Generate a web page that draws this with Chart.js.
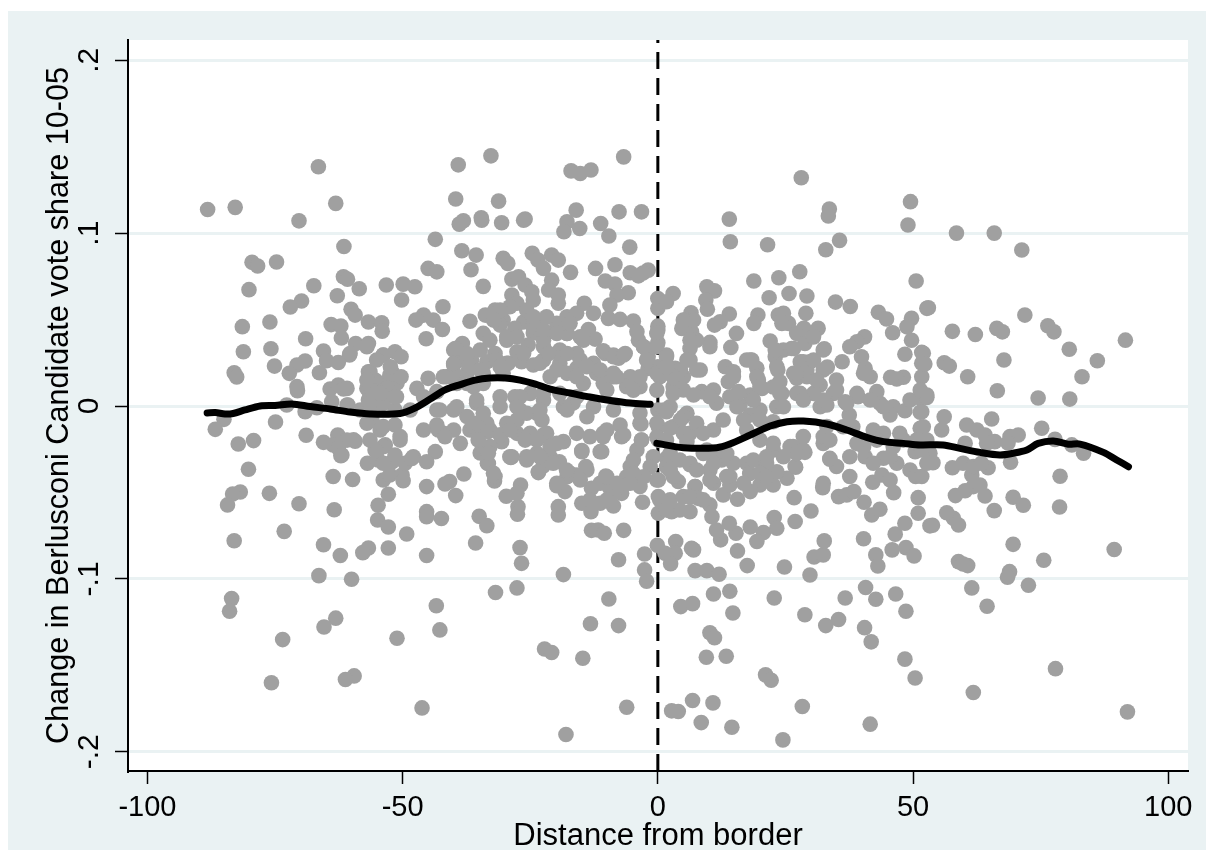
<!DOCTYPE html>
<html>
<head>
<meta charset="utf-8">
<title>Change in vote share by distance from border</title>
<script src="https://cdn.jsdelivr.net/npm/chart.js@4"></script>
<style>
  html, body { margin: 0; padding: 0; background: #fff; overflow: hidden; }
  #wrap { position: absolute; left: 8px; top: 11px; width: 1198px; height: 839px; background: #eaf2f3; }
</style>
</head>
<body>
<div id="wrap"><canvas id="scatterChart" width="1198" height="839"></canvas></div>
<script>
// Axis ticks and labels
const xTicks = [-100, -50, 0, 50, 100];
const yTicks = [-0.2, -0.1, 0, 0.1, 0.2];
const yTickLabels = ['-.2', '-.1', '0', '.1', '.2'];

// Scatter points, [distance, change]
const farLeftPoints = [
  [-88.2,.1137],[-82.8,.1149],[-66.5,.1384],[-63.1,.1172],[-70.3,.1071],[-61.5,.0923],[-79.5,.0831],[-78.4,.081],[-74.7,.0833],[-80.1,.0673],
  [-67.4,.0696],[-69.8,.0607],[-72,.0573],[-62.8,.0638],[-61.6,.0748],[-60.8,.0733],[-58.5,.0678],[-53.2,.07],[-81.4,.0459],[-76,.0486],
  [-81.2,.0314],[-75.8,.0331],[-69,.0389],[-75.1,.0231],[-83,.0192],[-82.5,.0168],[-64,.0471],[-62.1,.0463],[-62,.0394],[-60.1,.0559],
  [-59.3,.0526],[-56.7,.0486],[-54.1,.0481],[-54,.0433],[-59.2,.0362],[-56.7,.0362],[-65.5,.0318],[-60.4,.0295],[-69.1,.026],[-70.7,.0237],
  [-72.2,.0189],[-64.9,.0262],[-62.6,.0252],[-66.3,.0192],[-70.7,.0112],[-70.6,.0088],[-64.2,.0098],[-62.6,.0121],[-61.6,.0098],[-56.7,.0198],
  [-57,.0102],[-52.1,.0198],[-53.8,.0295],[-51.5,.0314],[-55.4,.015],[-53.8,.0133],[-51.1,.0133],[-56.7,.0035],[-63.9,.0025],[-60.7,.0006],
  [-72.7,.0006],[-69.1,-.0033],[-66.8,-.001],[-85,-.0077],[-86.7,-.0135],[-74.9,-.0092],[-68.9,-.0169],[-82.2,-.022],[-79.2,-.02],[-65.5,-.021],
  [-62.7,-.0168],[-63.6,-.0225],[-60.9,-.0197],[-59.3,-.0204],[-62.1,-.0287],[-62.6,-.0243],[-80.2,-.0366],[-56.9,-.0331],[-55.4,-.0254],[-63.6,-.0408],
  [-59.8,-.0425],[-53.8,-.0428],[-81.8,-.0497],[-83.3,-.0509],[-76.1,-.0505],[-84.3,-.0572],[-70.3,-.0565],[-63.4,-.06],[-52.8,-.051],[-54.8,-.0574],
  [-54.9,-.0659],[-52.8,-.07],[-73.2,-.0725],[-83,-.0779],[-65.5,-.0802],[-56.7,-.0821],[-57.8,-.0848],[-62.2,-.0865],[-52.8,-.0821],[-66.4,-.0981],
  [-60,-.1002],[-83.5,-.1114],[-83.9,-.1187],[-63.1,-.1227],[-65.4,-.1278],[-73.5,-.1351],[-51.1,-.1343],[-75.7,-.1601],[-59.5,-.1561],[-61.2,-.1582],
  [-58.3,-.0023],[-55.4,.0006],[-53.4,.0064],[-51.5,-.0023],[-56,-.0081],[-54.4,-.0139],[-51.5,-.011],[-53.4,-.0225],[-50.5,-.0197],[-56.4,-.0197],
  [-54.8,-.0312],[-52.1,-.0324],[-52.5,-.0399],[-50.1,-.0399],[-56.4,.0064]
];
const nearLeftPoints = [
  [-39.1,.1395],[-32.7,.1447],[-6.7,.1441],[-17,.136],[-15.2,.1345],[-13.1,.1365],[-39.6,.1197],[-31.2,.1185],[-16,.1133],[-7.6,.1123],
  [-3.2,.1123],[-38.1,.1071],[-38.9,.1052],[-34.6,.1089],[-34.5,.1075],[-30.6,.106],[-26,.1081],[-26.3,.1075],[-17.8,.1065],[-18.4,.1008],
  [-15.3,.1027],[-11.2,.1056],[-9.6,.0983],[-43.6,.0964],[-5.5,.0919],[-38.4,.0898],[-35.6,.0873],[-30.3,.0854],[-29.4,.0825],[-24.6,.0883],
  [-23.5,.0844],[-20.8,.0873],[-19.5,.0844],[-36.6,.0788],[-45,.0796],[-43.3,.0776],[-22.4,.0796],[-17.1,.0773],[-12.2,.0796],[-8.4,.0817],
  [-5.4,.0771],[-3.8,.0753],[-1.9,.0786],[-2.9,.0769],[-34.2,.0692],[-28.6,.0734],[-27.3,.0748],[-20.8,.0728],[-10.3,.0723],[-8.4,.0705],
  [-49.9,.0705],[-47.6,.069],[-26,.07],[-24.7,.0661],[-21.4,.0671],[-5.8,.0655],[-28.6,.0642],[-19.5,.0642],[-8,.0642],[-50.2,.0613],
  [-42.1,.0574],[-27.6,.0594],[-24.4,.0613],[-19.5,.0595],[-14.4,.0594],[-9.4,.0584],[-12.6,.0536],[-31.9,.0555],[-33.8,.0526],[-45.9,.0526],
  [-47.4,.0497],[-44,.0497],[-36.8,.049],[-42.2,.0443],[-45.4,.0389],[-30.3,.0497],[-26.3,.0486],[-28,.0449],[-30.9,.0468],[-23.4,.0497],
  [-19.8,.0478],[-17.8,.0516],[-15.9,.0536],[-9.7,.0507],[-7.4,.0501],[-4.8,.0491],[-13.6,.0443],[-12.3,.0387],[-34.2,.042],[-32.9,.0381],
  [-29.6,.0381],[-24.4,.0422],[-21.8,.0422],[-17.8,.042],[-15.2,.04],[-4.1,.043],[-3.8,.0381],[-38.3,.0362],[-40,.0324],[-34.8,.0324],
  [-31.9,.0304],[-27.6,.0314],[-25.4,.0353],[-22.4,.0343],[-19.2,.0324],[-15.9,.0304],[-10.3,.0304],[-8.7,.0295],[-6.4,.0304],[-7.7,.0277],
  [-2.8,.0343],[-1.9,.0285],[-50.3,.0285],[-40,.0237],[-36.5,.0266],[-33.5,.0256],[-29.3,.0247],[-26.7,.0256],[-24.4,.0237],[-22.4,.0266],
  [-19.2,.0247],[-15.9,.0218],[-12,.0189],[-8.7,.0169],[-5.4,.0169],[-1.9,.0218],[-41.4,.0169],[-37.4,.0189],[-34.2,.0189],[-45,.016],
  [-47.2,.0102],[-50.3,.0169],[-39.4,.0131],[-36.1,.0112],[-21.1,.0169],[-17.8,.0189],[-14.6,.0131],[-10.7,.0131],[-6.1,.0112],[-3.5,.0112],
  [-30.9,.0054],[-28,.0054],[-25,.0073],[-22.4,.0035],[-18.5,-.0004],[-16.6,.0017],[-12.6,-.0004],[-8.7,-.0023],[-3.5,-.004],[-30.9,-.0004],
  [-27,-.0023],[-23.7,-.0042],[-42.7,-.0023],[-39.4,-.0004],[-35.5,.0016],[-48.5,-.0023],[-45.9,.0054],[-43.3,-.011],[-42,-.0158],[-40,-.0139],
  [-45.9,-.0139],[-38.7,-.0216],[-43.6,-.0264],[-47.9,-.0293],[-45.3,-.0322],[-49.5,-.0331],[-49.9,-.0432],[-45.3,-.0466],[-40.8,-.0437],[-41.7,-.0451],
  [-38,-.0393],[-39.6,-.0518],[-45.3,-.0611],[-45.3,-.064],[-42.4,-.0651],[-49.2,-.074],[-35,-.0638],[-33.5,-.0692],[-35.7,-.0792],[-45.3,-.0865],
  [-27,-.0819],[-26.7,-.091],[-27.6,-.1052],[-31.8,-.1079],[-18.5,-.0975],[-43.4,-.1155],[-42.7,-.1295],[-9.6,-.1116],[-7.7,-.127],[-13.2,-.1259],
  [-22.2,-.1405],[-20.8,-.1426],[-14.7,-.1459],[-46.2,-.1746],[-6.1,-.1742],[-18,-.19],[-2.6,-.0856],[-2.6,-.0948],[-2.2,-.1013],[-7.7,-.0889],
  [-6.7,-.0719],[-13,-.0719],[-11.7,-.0717],[-10.5,-.0736],[-19.5,-.0582],[-19.5,-.063],[-27.4,-.0582],[-27.5,-.0626],[-26.9,-.0457],[-29.7,-.0522],
  [-27.6,-.0505],[-32,-.0433],[-33.4,-.0331],[-28.8,-.0297],[-25.7,-.0293],[-23.4,-.0385],[-19.3,-.0322],[-19.8,-.0461],[-18.2,-.0495],[-17.2,-.0389],
  [-14.1,-.035],[-15.9,-.0399],[-13,-.0476],[-10.2,-.0405],[-11.3,-.0447],[-9.4,-.0476],[-7.1,-.0505],[-6.1,-.0447],[-3.5,-.0466],[-3,-.0557],
  [-14.9,-.0562],[-13.1,-.0611],[-11.3,-.0562],[-8.7,-.0578],[-3.3,-.0104],[-3.2,-.0197],[-4.1,-.0254],[-5.4,-.035],[-11,-.0264],[-14.9,-.0258],
  [-18.5,-.0206],[-15.9,-.0158],[-13.3,-.0177],[-10.7,-.0158],[-7.1,-.0177],[-7.4,-.011],[-21.8,-.0158],[-25.7,-.0187],[-29.3,-.011],[-30.6,-.0206],
  [-32.9,-.0235],[-34.8,-.0158],[-36.8,-.0139],[-32.9,-.0139],[-27.6,-.0158],[-22.7,-.0081],[-22.5,-.0349],[-23.7,-.0273],[-21.1,-.0293],[-34.8,-.0272],
  [-.9,-.0293],[0,.0622],[0,.0565],[0,.0462],[0,.044],[0,.0366],[0,.0227],[0,-.0023],[-.1,-.0805]
];
const nearRightPoints = [
  [3,.0651],[1.7,.0603],[1.7,.0295],[.4,.0169],[3.4,.0218],[5,.0169],[2.4,-.0004],[5.7,-.0042],[1.1,-.0023],[4.5,-.116],
  [6.8,-.1143],[3.5,-.0784],[3.4,-.0852],[1.4,-.0852],[2.5,-.0912],[7,-.0832],[7.3,-.0952],[.1,-.0428],[.1,-.0524],[.1,-.062],
  [2.4,-.0543],[2.7,-.0611],[6.3,-.0611],[5,-.0524],[7.3,-.0466],[4,-.0437],[2.4,-.037],[1.7,-.0302],[6.3,-.0331],[.1,-.012],
  [.1,-.0197],[3,-.012],[5,-.0062],[6.3,-.0158],[9.6,-.0952],[12,-.0973],[17.5,-.0923],[15.6,-.0838],[6.6,-.0823],[10.9,-.1087],
  [14.1,-.1071],[14.7,-.1197],[22.8,-.111],[28.8,-.1207],[32.9,-.127],[35.4,-.1235],[40.5,-.1282],[41.8,-.1364],[40.7,-.105],[42.7,-.1118],
  [36.7,-.111],[46.6,-.1087],[48.6,-.1187],[48.4,-.1464],[29.8,-.0977],[24.8,-.0931],[30.6,-.0873],[32.4,-.0861],[32.6,-.078],[26.9,-.0668],
  [30,-.0607],[26.7,-.053],[32.3,-.0472],[40.3,-.0768],[42.7,-.0861],[43.1,-.0925],[45.9,-.0832],[48.6,-.0819],[46.5,-.0741],[48.4,-.0678],
  [41.9,-.063],[43.5,-.0597],[40.4,-.0557],[35.4,-.0524],[37,-.0514],[38.4,-.0495],[46.2,-.0501],[42.1,-.0441],[43.9,-.0399],[45.5,-.0428],
  [37.6,-.0408],[49.4,-.037],[46.8,-.0331],[44.2,-.0302],[40.6,-.0293],[37.6,-.0293],[35,-.035],[33.7,-.0308],[28.8,-.0268],[27,-.0354],
  [25.3,-.0418],[22.6,-.0457],[20,-.0457],[18.1,-.0495],[15.6,-.0539],[12.8,-.0514],[14.1,-.0457],[14.1,-.0408],[10.9,-.0447],[7.3,-.0466],
  [12.5,-.0312],[10.2,-.037],[6.3,-.034],[17.4,-.0331],[20.7,-.0331],[23.3,-.038],[22.6,-.0254],[26.5,-.0235],[18,-.039],[22.8,-.0645],
  [23.3,-.0707],[20.7,-.0732],[18.1,-.07],[19.4,-.0784],[15.3,-.0736],[14,-.0678],[12.3,-.0774],[11.5,-.0717],[10.6,-.064],[10.2,-.0572],
  [7.9,-.0534],[13.4,-.1447],[9.5,-.1453],[10.2,-.1311],[11.1,-.134],[21.1,-.1555],[22.2,-.1586],[28.3,-.1738],[41.6,-.184],[24.5,-.1931],
  [14.5,-.1858],[8.5,-.1831],[10.8,-.1717],[6.8,-.1703],[2.7,-.1763],[4,-.1767],[28.1,.132],[14,.1081],[14.2,.095],[21.5,.0933],
  [33.6,.1139],[33.4,.1099],[35.6,.0958],[32.9,.0904],[49.5,.1182],[49,.1047],[27.8,.0777],[18.8,.0723],[23.7,.0742],[21.8,.0626],
  [25.7,.0651],[29.2,.0636],[34.8,.0601],[37.7,.0576],[29,.0536],[9.6,.069],[11.1,.0666],[9.4,.0613],[9.7,.056],[6.5,.0539],
  [5.3,.0497],[4.7,.0449],[14,.0532],[12.2,.0487],[11.1,.0468],[19.6,.0526],[18.8,.0478],[23.6,.0526],[24.6,.0536],[25.6,.0478],
  [24.3,.0478],[15.4,.042],[14.3,.0339],[10.2,.0368],[6.6,.043],[7.6,.0381],[6.3,.0333],[6.3,.0266],[22,.0376],[28.6,.0449],
  [31.4,.0449],[27.2,.042],[28.8,.0362],[30.5,.04],[32.6,.0331],[40.5,.04],[39,.0372],[37.6,.0343],[36.1,.0256],[33.2,.0226],
  [43.2,.0542],[44.8,.0503],[46,.0424],[49.7,.0507],[48.8,.0458],[49.7,.038],[48.4,.0299],[48.1,.0166],[46.8,.0156],[45.6,.0166],
  [39.9,.0285],[40.6,.0218],[41.6,.0169],[35,.015],[39.2,.0054],[42.9,.0083],[46.1,-.0004],[48.4,-.0027],[45.5,-.0052],[37.5,-.0052],
  [43.5,.0016],[18.4,.0266],[17.4,.0266],[19.4,.0218],[19.7,.015],[20.4,.0102],[18.1,.0064],[13.2,.0227],[14.8,.0198],[13.8,.014],
  [15.8,.0083],[8.3,.0208],[4.4,.0208],[3,.0208],[8.6,.0083],[7,.0064],[10.9,.0093],[5,.0093],[3,.0112],[11.5,.0016],
  [16.1,.0006],[18.1,-.0052],[23.5,.0208],[23,.0285],[24.6,.0324],[26.2,.0333],[28.5,.0256],[29.8,.0256],[27.2,.016],[29.2,.0169],
  [31.8,.0121],[23.9,.014],[24.3,.0073],[27.2,.0073],[30.5,.0073],[34.4,.0073],[36.7,.0025],[33.1,.0006],[23.3,-.0004],[20,-.0023],
  [47.4,-.0158],[42.2,-.0139],[38.2,-.012],[40.3,-.0235],[32.4,-.0216]
];
const farRightPoints = [
  [50.4,-.1573],[50.2,-.0867],[51,-.062],[51,-.053],[53.3,-.0693],[50.5,-.0408],[50.4,-.0264],[51.4,-.0129],[50.6,.0723],[51.7,.031],
  [52.7,.0565],[51.7,.0247],[51.7,.0169],[51.4,.0045],[52.7,.0064],[51.4,-.0036],[58.5,.1],[65.9,.1],[71.3,.0902],[53,.0568],
  [71.9,.0526],[57.7,.0432],[62.2,.0414],[66.4,.0449],[67.5,.0429],[76.4,.0464],[77.6,.0429],[80.6,.0328],[91.6,.0381],[86.1,.0262],
  [83.1,.0169],[67.8,.0266],[56.1,.025],[57.1,.0231],[60.7,.0169],[66.5,.0088],[74.5,.0046],[80.7,.004],[52,.0305],[52.3,.0243],
  [52.7,.005],[51.7,-.0033],[56.1,-.0062],[60.5,-.011],[65.4,-.0075],[75.2,-.0129],[77.8,-.0193],[81.1,-.0225],[83.4,-.0273],[78.8,-.0406],
  [78.7,-.0584],[69.6,-.08],[89.4,-.083],[75.6,-.0892],[72.6,-.1037],[68.9,-.0958],[68.5,-.099],[61.5,-.1052],[64.5,-.1158],[58.9,-.09],
  [60.7,-.0923],[59.8,-.0914],[77.9,-.1519],[61.8,-.1657],[92,-.1769],[53.8,-.069],[58.9,-.0688],[57.9,-.0649],[56.6,-.0617],[65.9,-.0605],
  [69.6,-.0528],[71.6,-.0574],[64.1,-.052],[58.3,-.0518],[60.2,-.049],[61.8,-.0466],[63.1,-.0457],[61.5,-.0399],[57.7,-.0357],[59.8,-.0331],
  [61.8,-.035],[64.7,-.0357],[63.4,-.0331],[69.1,-.0325],[53.9,-.0328],[53.3,-.0273],[51.7,-.0408],[55.6,-.0139],[62.5,-.0139],[64.1,-.0168],
  [66,-.0206],[69,-.0177],[70.6,-.0168],[68.6,-.0214],[60.2,-.0216],[64.4,-.0216],[51.7,-.0254]
];

// Extra points in the solid-looking clusters, estimated from closer crops
const denseLeftPoints = [
  [-60.3,.0304],[-57,.0343],[-53.8,.0295],[-56.4,.0198],[-52.5,.0179],[-56,.0092],[-53.1,.0102],[-56.4,.0015],[-53.8,.0015],[-51.2,.0054],
  [-60.9,.0102],[-60.9,.0006],[-57,-.01],[-53.8,-.0119],[-50.5,-.0177],[-53.8,-.0235],[-55.1,-.0264],[-51.5,-.0283],[-48.2,-.0303],[-43,-.0139],
  [-41.7,-.0177],[-43.3,.0083],[-40,.0189],[-39.4,.0266],[-39.7,.0333],[-37.1,.0237],[-34.8,.0208],[-31.6,.0266],[-30.3,.0189],[-35.5,.0035],
  [-37.4,.0131],[-34.2,.0131],[-33.5,-.01],[-36.1,-.0119],[-34.2,-.0235],[-33.2,-.0332],[-31.9,-.0408],[-28.6,-.0293],[-29.6,-.01],[-59.6,-.0196],
  [-61.9,-.0283],[-53.8,-.0331],[-55.1,.0266],[-52.4,.0227],[-54.4,.0073],[-57,.015],[-51.5,.0054],[-35.5,-.01],[-33.2,-.0148],[-30.9,-.0167],
  [-27.6,-.0081],[-25.7,-.0042],[-34.2,-.0042],[-37.4,-.0061],[-40,-.0023],[-43.3,-.0023],[-33.2,-.0273],[-35.2,-.0196],[-32.2,-.0389]
];
const denseCentrePoints = [
  [-29.6,.0401],[-24.4,.0458],[-22.4,.0381],[-17.8,.042],[-14.6,.0381],[-29.6,.0247],[-27,.0285],[-23.1,.0247],[-19.2,.0304],[-15.2,.0266],
  [-19.8,.0208],[-15.9,.0169],[-11.3,.0189],[-8.1,.0169],[-3.5,.0169],[-2.2,.0266],[-2.8,.0343],[-10.7,.032],[-8.7,.0285],[-6.7,.0295],
  [-12.6,.0247],[-27,.0054],[-22.4,.0073],[-19.2,.0073],[-15.9,.0054],[-10,.0092],[-4.8,.0092],[-.2,.0092],[-.2,.0189],[-.2,.042],
  [-.2,.0343],[-27.6,-.0004],[-23.1,-.0023],[-17.8,-.0023],[-13.9,-.0062],[-10,-.0139],[-6.7,-.0168],[-10.7,-.0177],[-3.5,-.01],[-3.2,-.0197],
  [-.2,-.01],[-.2,-.018],[-28.9,-.0139],[-25,-.0158],[-26,-.0197],[-19.8,-.0216],[-22.4,-.0168],[-29,-.0293],[-25.7,-.0312],[-23.4,-.038],
  [-14.9,-.0264],[-11.3,-.0264],[-13.9,-.037],[-10,-.0409],[-17.8,-.0409],[-19.8,-.0447],[-4.8,-.0312],[-1.5,-.0351],[-.2,-.0428],[-6.1,-.0409],
  [-2.8,-.0409],[-29,.0574],[-25.7,.0555],[-24.4,.0516],[-22.4,.0439],[-19.8,.042],[-17.2,.0478],[-21.8,.0516],[-30.9,.0555],[-32.2,.0497],
  [-27.6,.04],[-26.3,.0304],[-21.4,.0304],[-17.8,.0304],[-30.9,.0227],[-37.4,.0304],[-40,.0246],[-42,.0169],[-13.9,.0227],[-11.3,.0208],
  [-8.7,.0189],[-23.7,-.0196],[-21.1,-.0235],[-23.1,-.0293],[-20.5,-.0331],[-17.9,-.037],[-15.2,-.0428],[-8.7,-.0505],[-8,-.0447],[-4.8,-.039],
  [-5.4,-.0447],[-10,-.0543],[-13.3,-.0543]
];
const denseRightPoints = [
  [1.7,.0285],[4.4,.0208],[7.6,.0208],[3,.017],[10.2,.0343],[18.1,.0266],[14.8,.017],[19.4,.017],[20,.0112],[10.2,.0054],
  [14.1,.0054],[15.5,-.0004],[18.7,.0035],[3,.0073],[1.7,-.0033],[4.4,-.0081],[7.6,-.01],[10.9,-.0139],[2.4,-.0129],[5,-.0158],
  [8.9,-.0158],[12.8,-.0081],[16.8,-.0081],[20,-.0081],[22.6,-.0091],[17.4,-.0139],[20,-.0197],[22.6,-.0216],[25.9,-.0235],[28.5,-.0254],
  [18.7,-.0312],[21.3,-.033],[26.9,-.035],[20,-.0389],[2.4,-.0274],[1.7,-.0196],[5.7,-.0206],[9.6,-.0254],[11.5,-.0293],[7.6,-.037],
  [10.2,-.0428],[13.5,-.0408],[3,-.0408],[1.7,-.0351],[23.3,.0227],[26.6,.0189],[29.2,.0208],[32.4,.0208],[27.9,.0256],[30.5,.0266],
  [32.4,.0324],[27.9,.0073],[23.9,.0073],[31.8,-.0004],[33.1,-.0119],[28.5,-.0177],[32.4,-.0177],[26.6,.0333],[23,.0324],[32.4,-.0447],
  [1.7,.0227],[5.7,.0266],[6.3,.0381],[7,.0497],[5,.0497],[39,.0073],[41.6,.0035],[44.2,-.0004],[37,.0015],[35,.0092],
  [32.4,.0035],[28.5,.0035],[24.6,-.0004],[22.6,.011],[27.2,.0189],[31.1,.015],[40.3,.0189],[49.4,.0035],[51.4,.0092],[52,-.012],
  [33.7,-.0303],[44.2,-.0158],[46.1,-.0235],[48.1,-.0197],[42.9,-.0197],[39,-.0216],[36.3,-.012],[33.7,-.0197],[42.2,-.0331],[45.5,-.0293],
  [50.7,-.0197],[52.7,-.0197],[52.7,-.0331],[27.2,-.0274],[24.6,-.0293],[21.3,-.0293],[21.3,-.0409],[16.8,-.0447],[14.8,-.0331],[13.5,-.0274],
  [10.9,-.0331],[8.9,-.0274],[4.3,-.0312],[2.4,-.037],[6.3,-.0524],[8.9,-.0543],[.4,-.0543],[4.3,-.0601],[1.7,-.0601]
];

// Smoothed fit either side of the border
const leftFit = [
  [-88.3,-.004],[-86.7,-.0038],[-84.8,-.0046],[-83.2,-.0043],[-80.9,-.0023],[-77.9,0],[-75,.0003],[-71.7,.0012],[-68.1,-.0003],[-64.2,-.0017],
  [-60.3,-.0035],[-56.4,-.0046],[-50.5,-.0043],[-47.6,-.0012],[-44.6,.004],[-41.7,.0093],[-38.7,.0124],[-35.8,.015],[-32.9,.0162],[-29.9,.0162],
  [-27,.015],[-24,.0127],[-21.1,.0098],[-17.2,.0075],[-13.3,.0052],[-9.3,.0032],[-5.4,.0017],[-1.5,.001]
];
const rightFit = [
  [-.2,-.0216],[5,-.0241],[11.5,-.0241],[14.1,-.022],[18.1,-.0168],[22,-.0116],[25.3,-.0091],[28.5,-.0087],[33.1,-.0104],[37,-.0139],
  [40.9,-.0181],[44.2,-.0206],[48.1,-.0216],[51.4,-.0225],[55.9,-.0225],[59.2,-.0245],[63.1,-.0268],[67,-.0283],[69.6,-.0273],[72.3,-.0254],
  [74.5,-.0216],[77.5,-.0202],[80.4,-.0221],[82.7,-.022],[87.3,-.0268],[89.9,-.0312],[92.2,-.0351]
];
const borderLine = [[0,-.2111],[0,.2117]];

const toXY = rows => rows.map(r => ({ x: r[0], y: r[1] }));
const allPoints = [...farLeftPoints, ...nearLeftPoints, ...nearRightPoints, ...farRightPoints,
  ...denseLeftPoints, ...denseCentrePoints, ...denseRightPoints];

const fitStyle = { type: 'line', borderColor: '#000', borderWidth: 7, pointRadius: 0, tension: 0.3, borderCapStyle: 'round', borderJoinStyle: 'round', order: 1 };

// White plot region over the blue-ish page colour
const plotBackground = {
  id: 'plotBackground',
  beforeDraw(chart) {
    const a = chart.chartArea;
    chart.ctx.save();
    chart.ctx.fillStyle = '#fff';
    chart.ctx.fillRect(a.left, a.top, a.right - a.left, a.bottom - a.top);
    chart.ctx.restore();
  }
};

new Chart(document.getElementById('scatterChart'), {
  type: 'scatter',
  plugins: [plotBackground],
  data: {
    datasets: [
      { ...fitStyle, data: toXY(leftFit) },
      { ...fitStyle, data: toXY(rightFit) },
      { type: 'scatter', data: toXY(allPoints), backgroundColor: '#a0a0a0', borderWidth: 0, pointRadius: 7.8, order: 2 },
      { type: 'line', data: toXY(borderLine), borderColor: '#000', borderWidth: 3, borderDash: [17, 9], pointRadius: 0, order: 3 }
    ]
  },
  options: {
    responsive: false,
    animation: false,
    layout: { padding: { top: 29, right: 18, left: 0, bottom: 0 } },
    plugins: { legend: { display: false }, tooltip: { enabled: false } },
    scales: {
      x: {
        type: 'linear',
        min: -103.8,
        max: 103.86,
        afterFit(scale) { scale.height = 79; },
        afterBuildTicks(scale) { scale.ticks = xTicks.map(v => ({ value: v })); },
        border: { display: true, color: '#000', width: 2 },
        grid: { drawOnChartArea: false, drawTicks: true, tickLength: 13, tickColor: '#000', tickWidth: 1.5 },
        ticks: { color: '#000', font: { family: 'Liberation Sans', size: 29 }, padding: 7, maxRotation: 0, autoSkip: false },
        title: { display: true, text: 'Distance from border', color: '#000', font: { family: 'Liberation Sans', size: 31, lineHeight: 1 }, padding: { top: 0, bottom: -2 } }
      },
      y: {
        type: 'linear',
        min: -0.2111,
        max: 0.2117,
        afterFit(scale) { scale.width = 120; },
        afterBuildTicks(scale) { scale.ticks = yTicks.map(v => ({ value: v })); },
        border: { display: true, color: '#000', width: 2 },
        grid: { color: '#eaf2f3', lineWidth: 3, drawTicks: true, tickLength: 13, tickColor: '#000', tickWidth: 1.5 },
        ticks: {
          color: '#000',
          font: { family: 'Liberation Sans', size: 30 },
          minRotation: 90,
          maxRotation: 90,
          crossAlign: 'center',
          padding: 8,
          autoSkip: false,
          callback: v => yTickLabels[yTicks.indexOf(v)]
        },
        title: { display: true, text: 'Change in Berlusconi Candidate vote share 10-05', color: '#000', font: { family: 'Liberation Sans', size: 30.6 }, padding: { top: 33, bottom: 0 } }
      }
    }
  }
});
</script>
</body>
</html>
